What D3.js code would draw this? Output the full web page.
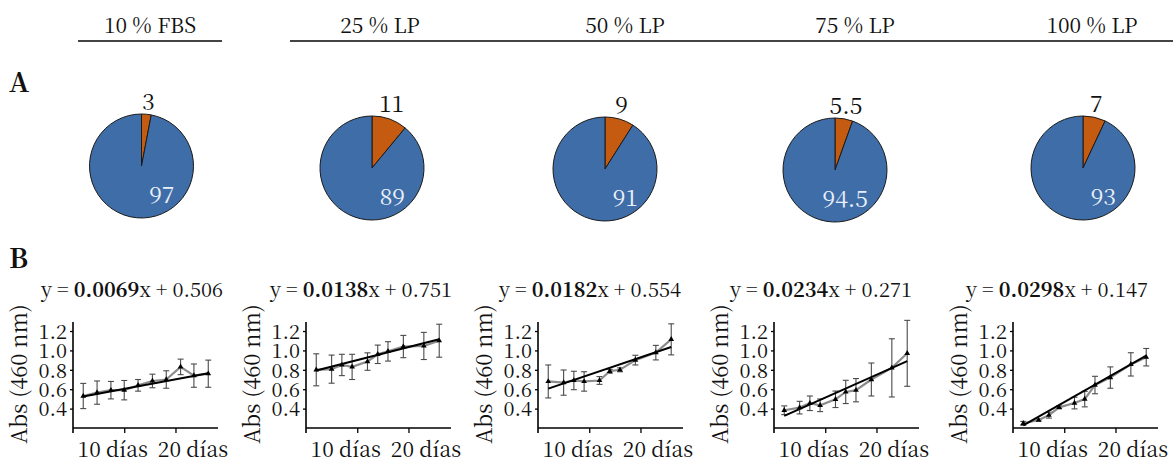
<!DOCTYPE html>
<html><head><meta charset="utf-8">
<script src="https://cdn.jsdelivr.net/npm/d3@7/dist/d3.min.js"></script>
<style>body{margin:0;background:#fff}svg{display:block}</style>
</head><body><svg id="c" width="1173" height="464"></svg>
<script>
// ---------- data ----------
const conditions = ["10 % FBS", "25 % LP", "50 % LP", "75 % LP", "100 % LP"];
const pieSmall = [3, 11, 9, 5.5, 7];
const pieLarge = [97, 89, 91, 94.5, 93];
const slopes = ["0.0069", "0.0138", "0.0182", "0.0234", "0.0298"];
const intercepts = ["0.506", "0.751", "0.554", "0.271", "0.147"];
const daysFBS = [2, 4.7, 7.4, 10, 12.7, 15.5, 18.2, 21, 23.6, 26.4];
const daysLP = [2, 5, 7, 9, 12, 14, 16, 19, 23, 26];
const mean1 = [0.53, 0.565, 0.59, 0.59, 0.64, 0.685, 0.70, 0.83, 0.74, 0.76];
const err1  = [0.13, 0.12, 0.09, 0.10, 0.06, 0.07, 0.09, 0.08, 0.12, 0.14];
const mean2 = [0.80, 0.807, 0.85, 0.83, 0.885, 0.96, 0.99, 1.04, 1.046, 1.10];
const err2  = [0.165, 0.145, 0.11, 0.13, 0.09, 0.095, 0.10, 0.115, 0.14, 0.17];
const mean3 = [0.68, 0.668, 0.69, 0.68, 0.69, 0.785, 0.80, 0.90, 0.977, 1.114];
const err3  = [0.17, 0.13, 0.095, 0.10, 0.04, 0.02, 0.02, 0.05, 0.075, 0.16];
const mean4 = [0.383, 0.41, 0.455, 0.434, 0.496, 0.572, 0.59, 0.70, 0.82, 0.97];
const err4  = [0.045, 0.065, 0.075, 0.065, 0.085, 0.12, 0.12, 0.17, 0.30, 0.34];
const mean5 = [0.248, 0.282, 0.332, 0.413, 0.457, 0.498, 0.643, 0.72, 0.856, 0.93];
const err5  = [0.02, 0.01, 0.03, 0.015, 0.06, 0.08, 0.09, 0.11, 0.12, 0.09];
const fitStart = [0.524, 0.793, 0.606, 0.325, 0.228];
const fitEnd   = [0.764, 1.115, 1.035, 0.89, 0.947];
const yTicks = [0.4, 0.6, 0.8, 1.0, 1.2];
const xTicks = [10, 20];
const xTickLabels = ["10 días", "20 días"];

const panels = [
  {days: daysFBS, mean: mean1, err: err1},
  {days: daysLP, mean: mean2, err: err2},
  {days: daysLP, mean: mean3, err: err3},
  {days: daysLP, mean: mean4, err: err4},
  {days: daysLP, mean: mean5, err: err5}
];

// ---------- layout ----------
const FONT = '"Noto Serif CJK SC", "Liberation Serif", serif';
const svg = d3.select("#c");
function txt(sel, size) {
  return sel.append("text").style("font-family", FONT).style("font-size", size + "px").style("fill", "#111");
}
const headerX = [150, 380, 625, 855, 1092];
const pieCx = [141.5, 372, 605, 835, 1083];
const pieCy = [166, 168, 169, 170, 168];
const R = 52;
const axisX0 = [73, 306, 538, 774, 1013];
const eqX = [132, 361, 590, 821, 1057];
const plotW = 145, yTop = 322, yBase = 428;
const blue = "#3f6da7", orange = "#c55a11";

// header
conditions.forEach((c, i) => {
  txt(svg, 21).attr("x", headerX[i]).attr("y", 33).attr("text-anchor", "middle").text(c);
});
svg.append("line").attr("x1", 78).attr("x2", 222).attr("y1", 41).attr("y2", 41).attr("stroke", "#444").attr("stroke-width", 2);
svg.append("line").attr("x1", 290).attr("x2", 1173).attr("y1", 41).attr("y2", 41).attr("stroke", "#444").attr("stroke-width", 2);

txt(svg, 27).attr("x", 9).attr("y", 92).style("font-weight", "bold").text("A");
txt(svg, 27).attr("x", 9).attr("y", 268).style("font-weight", "bold").text("B");

// pies
const pie = d3.pie().sort(null).value(d => d);
const arc = d3.arc().innerRadius(0).outerRadius(R);
conditions.forEach((c, i) => {
  const g = svg.append("g").attr("transform", `translate(${pieCx[i]},${pieCy[i]})`);
  const arcs = pie([pieSmall[i], pieLarge[i]]);
  g.selectAll("path").data(arcs).join("path")
    .attr("d", arc)
    .attr("fill", (d, j) => j === 0 ? orange : blue)
    .attr("stroke", "#1a1a1a").attr("stroke-width", 1);
  const mid = (arcs[0].startAngle + arcs[0].endAngle) / 2;
  txt(g, 23).attr("x", R * Math.sin(mid) + 2).attr("y", -R - 4)
    .attr("text-anchor", "middle").text(pieSmall[i]);
  txt(g, 23).attr("x", 33).attr("y", 37).attr("text-anchor", "end")
    .style("fill", "#eaf0fa").text(pieLarge[i]);
});

// line panels
const y = d3.scaleLinear().domain([0.2, 1.293]).range([yBase, yTop]);
panels.forEach((p, i) => {
  const x0 = axisX0[i];
  const x = d3.scaleLinear().domain([0, 28.3]).range([x0, x0 + plotW]);
  const g = svg.append("g");

  // equation
  const eq = txt(g, 20).attr("x", eqX[i]).attr("y", 297).attr("text-anchor", "middle");
  eq.append("tspan").text("y = ");
  eq.append("tspan").style("font-weight", "bold").text(slopes[i]);
  eq.append("tspan").text("x + " + intercepts[i]);

  // axes
  const yAxis = d3.axisLeft(y).tickValues(yTicks).tickFormat(d3.format(".1f")).tickSize(3).tickPadding(3);
  const ya = g.append("g").attr("transform", `translate(${x0},0)`).call(yAxis);
  ya.select(".domain").remove();
  ya.selectAll("line").attr("stroke", "#000").attr("stroke-width", 1.3);
  ya.selectAll("text").style("font-family", FONT).style("font-size", "20px").style("fill", "#111").attr("dy", "0.36em");
  g.append("line").attr("x1", x0).attr("x2", x0).attr("y1", yTop).attr("y2", yBase + 5).attr("stroke", "#000").attr("stroke-width", 1.6);

  const xAxis = d3.axisBottom(x).tickValues(xTicks).tickFormat((d, k) => xTickLabels[k]).tickSize(5).tickPadding(9);
  const xa = g.append("g").attr("transform", `translate(0,${yBase})`).call(xAxis);
  xa.select(".domain").remove();
  xa.selectAll("line").attr("stroke", "#000").attr("stroke-width", 1.3);
  xa.selectAll("text").style("font-family", FONT).style("font-size", "21px").style("fill", "#111")
    .attr("dx", (d, k) => k === 0 ? -12 : 17);
  g.append("line").attr("x1", x0).attr("x2", x0 + plotW).attr("y1", yBase).attr("y2", yBase).attr("stroke", "#000").attr("stroke-width", 1.6);

  txt(g, 22).attr("transform", `translate(${x0 - 46},374) rotate(-90)`)
    .attr("text-anchor", "middle").text("Abs (460 nm)");

  const pts = p.days.map((d, k) => ({d, m: p.mean[k], e: p.err[k]}));
  // error bars
  const eb = g.append("g").attr("stroke", "#4a4a4a").attr("stroke-width", 1.1);
  pts.forEach(q => {
    eb.append("line").attr("x1", x(q.d)).attr("x2", x(q.d)).attr("y1", y(q.m - q.e)).attr("y2", y(q.m + q.e));
    eb.append("line").attr("x1", x(q.d) - 3).attr("x2", x(q.d) + 3).attr("y1", y(q.m - q.e)).attr("y2", y(q.m - q.e));
    eb.append("line").attr("x1", x(q.d) - 3).attr("x2", x(q.d) + 3).attr("y1", y(q.m + q.e)).attr("y2", y(q.m + q.e));
  });
  // mean line
  g.append("path").datum(pts).attr("fill", "none").attr("stroke", "#8c8c8c").attr("stroke-width", 2.2)
    .attr("d", d3.line().x(q => x(q.d)).y(q => y(q.m)));
  // regression line
  const dFirst = p.days[0], dLast = p.days[p.days.length - 1];
  g.append("line").attr("x1", x(dFirst)).attr("y1", y(fitStart[i])).attr("x2", x(dLast)).attr("y2", y(fitEnd[i]))
    .attr("stroke", "#000").attr("stroke-width", 2);
  // markers
  g.selectAll("path.m").data(pts).join("path").attr("class", "m")
    .attr("d", d3.symbol().type(d3.symbolTriangle).size(14))
    .attr("transform", q => `translate(${x(q.d)},${y(q.m)})`).attr("fill", "#000");
});
</script></body></html>
